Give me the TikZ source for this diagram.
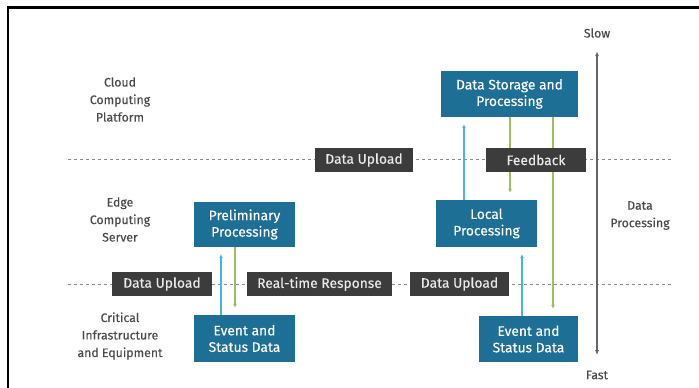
\documentclass[tikz,border=0pt]{standalone}
\usepackage{fontspec}
\setmainfont{Fira Sans}
\usetikzlibrary{arrows.meta}

\definecolor{boxteal}{HTML}{1E6F96}
\definecolor{tagdark}{HTML}{3C3C3C}
\definecolor{upblue}{HTML}{45B5E6}
\definecolor{downgreen}{HTML}{9DBF5C}
\definecolor{labelgrey}{HTML}{4A4A4A}
\definecolor{axisgrey}{HTML}{666666}
\definecolor{sepgrey}{HTML}{8A8A8A}

\tikzset{
  txt/.style={font=\fontsize{12.3}{17.5}\selectfont\addfontfeatures{FakeBold=0.15}},
  boxtxt/.style={font=\fontsize{13.8}{16.5}\selectfont\addfontfeatures{FakeBold=0.2}},
  stagebox/.style={boxtxt, fill=boxteal, text=white, align=center, inner sep=0pt},
  tagbox/.style={boxtxt, fill=tagdark, text=white!92!black, inner sep=0pt, minimum height=24pt},
  layerlabel/.style={txt, text=labelgrey, align=center},
  separator/.style={sepgrey, line width=1pt, dash pattern=on 3pt off 3pt},
  uplink/.style={upblue, line width=1.2pt, -{Latex[length=4pt,width=4pt]}, shorten >=7pt},
  downlink/.style={downgreen, line width=1.2pt, -{Latex[length=4pt,width=4pt]}, shorten >=7pt},
  speedaxis/.style={axisgrey, line width=1.3pt, {Latex[length=5pt,width=4pt]}-{Latex[length=5pt,width=4pt]}},
}

\begin{document}
\begin{tikzpicture}[x=1pt,y=-1pt]
\useasboundingbox (0,0) rectangle (699,388);
\fill[white] (0,0) rectangle (699,388);

% frame
\draw[line width=2.5pt, line cap=rect] (8,390) -- (8,7.5) -- (701,7.5);

% layer separators
\coordinate (sepA) at (68,159);
\coordinate (sepAend) at (673,159);
\coordinate (sepB) at (68,284);
\coordinate (sepBend) at (673,284);
\draw[separator] (sepA) -- (sepAend);
\draw[separator] (sepB) -- (sepBend);

% layer names
\node[layerlabel] (cloud) at (120,99.5) {Cloud\\Computing\\Platform};
\node[layerlabel] (edge) at (120,219.5) {Edge\\Computing\\Server};
\node[layerlabel] (crit) at (120,336) {Critical\\Infrastructure\\and Equipment};

% processing stages
\node[stagebox, minimum width=137pt, minimum height=46pt] (store) at (509.5,94) {Data Storage and\\Processing};
\node[stagebox, minimum width=101pt, minimum height=45pt] (prelim) at (244.5,224.5) {Preliminary\\Processing};
\node[stagebox, minimum width=101pt, minimum height=47pt] (local) at (486.5,223.5) {Local\\Processing};
\node[stagebox, minimum width=101pt, minimum height=47pt] (eventA) at (244.5,338.5) {Event and\\Status Data};
\node[stagebox, minimum width=99pt, minimum height=46pt] (eventB) at (528.5,339) {Event and\\Status Data};

% data flows
\draw[uplink] (eventA.north -| 221,0) -- (prelim.south -| 221,0);
\draw[downlink] (prelim.south -| 235,0) -- (eventA.north -| 235,0);
\draw[uplink] (local.north -| 464,0) -- (store.south -| 464,0);
\draw[downlink] (store.south -| 510,0) -- (local.north -| 510,0);
\draw[uplink] (eventB.north -| 522,0) -- (local.south -| 522,0);
\draw[downlink] (store.south -| 553,0) -- (eventB.north -| 553,0);

% tags on the separators, drawn over the flows
\node[tagbox, minimum width=98pt] (upA) at (364,160) {Data Upload};
\node[tagbox, minimum width=100pt] (fb) at (536,160) {Feedback};
\node[tagbox, minimum width=100pt] (upB) at (162,284) {Data Upload};
\node[tagbox, minimum width=145pt] (rtr) at (319.5,284) {Real-time Response};
\node[tagbox, minimum width=99pt] (upC) at (459.5,284) {Data Upload};

% speed axis
\node[txt, text=labelgrey] (slow) at (597,33) {Slow};
\node[txt, text=labelgrey] (fast) at (597,375) {Fast};
\node[layerlabel] (dp) at (640,215.5) {Data\\Processing};
\path (slow.south) ++(0,10) coordinate (axtop);
\path (fast.north) ++(0,-12) coordinate (axbot);
\draw[speedaxis] (axtop) -- (axbot);
\end{tikzpicture}
\end{document}
